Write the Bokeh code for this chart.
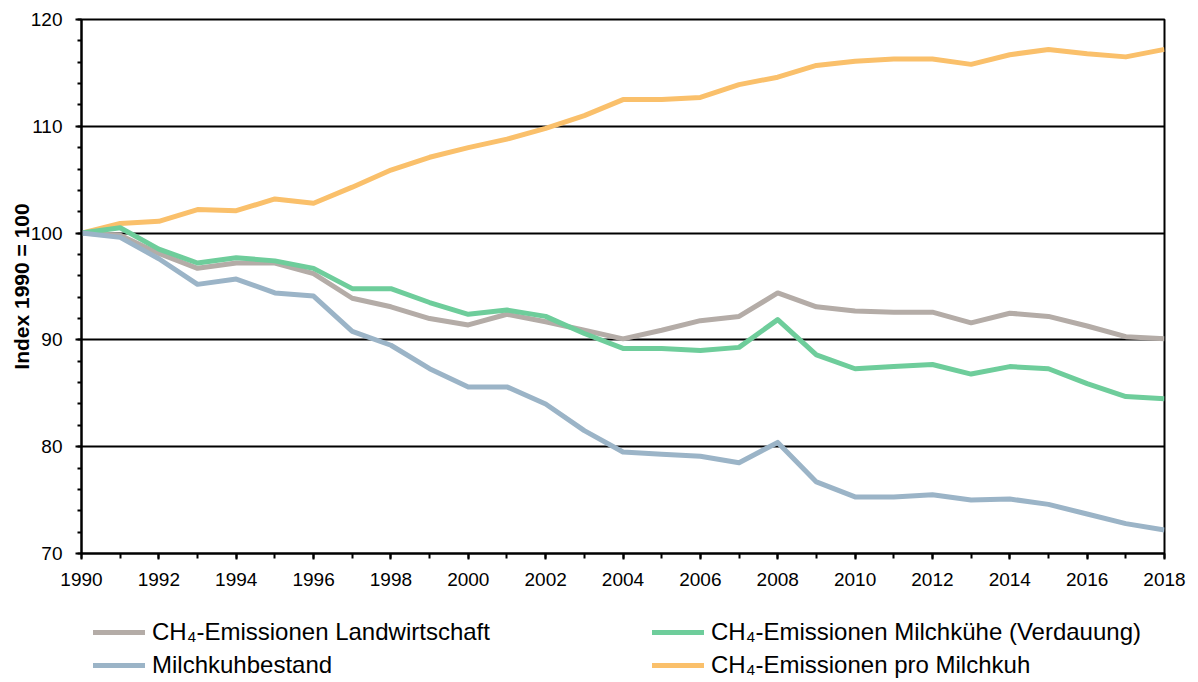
from bokeh.plotting import figure
from bokeh.layouts import column
from bokeh.models import Range1d, SingleIntervalTicker, Legend, LegendItem
from bokeh.embed import file_html
from bokeh.resources import INLINE

years = list(range(1990, 2019))
landwirtschaft = [100, 99.8, 98.1, 96.7, 97.2, 97.2, 96.2, 93.9, 93.1, 92.0, 91.4, 92.4, 91.7, 90.9, 90.1,
                  90.9, 91.8, 92.2, 94.4, 93.1, 92.7, 92.6, 92.6, 91.6, 92.5, 92.2, 91.3, 90.3, 90.1]
milchkuehe = [100, 100.5, 98.5, 97.2, 97.7, 97.4, 96.7, 94.8, 94.8, 93.5, 92.4, 92.8, 92.2, 90.6, 89.2,
              89.2, 89.0, 89.3, 91.9, 88.6, 87.3, 87.5, 87.7, 86.8, 87.5, 87.3, 85.9, 84.7, 84.5]
bestand = [100, 99.6, 97.6, 95.2, 95.7, 94.4, 94.1, 90.8, 89.5, 87.3, 85.6, 85.6, 84.0, 81.5, 79.5,
           79.3, 79.1, 78.5, 80.4, 76.7, 75.3, 75.3, 75.5, 75.0, 75.1, 74.6, 73.7, 72.8, 72.2]
pro_kuh = [100, 100.9, 101.1, 102.2, 102.1, 103.2, 102.8, 104.3, 105.9, 107.1, 108.0, 108.8, 109.8, 111.0, 112.5,
           112.5, 112.7, 113.9, 114.6, 115.7, 116.1, 116.3, 116.3, 115.8, 116.7, 117.2, 116.8, 116.5, 117.2]

labels = ["CH\u2084-Emissionen Landwirtschaft", "CH\u2084-Emissionen Milchkühe (Verdauung)",
          "Milchkuhbestand", "CH\u2084-Emissionen pro Milchkuh"]
colors = ["#B4ACA7", "#6ECD9B", "#9BB4C7", "#FAC06B"]

FONT = "Liberation Sans"

p = figure(frame_width=1083, frame_height=534, output_backend="svg", toolbar_location=None,
           x_range=Range1d(1990, 2018), y_range=Range1d(70, 120),
           min_border_left=81, min_border_top=19, min_border_right=34, min_border_bottom=55)

p.outline_line_color = "black"
p.outline_line_width = 2
p.xgrid.grid_line_color = None
p.ygrid.grid_line_color = "black"
p.ygrid.grid_line_width = 2
p.ygrid.ticker = SingleIntervalTicker(interval=10, num_minor_ticks=5)

p.xaxis.ticker = SingleIntervalTicker(interval=2, num_minor_ticks=2)
p.yaxis.ticker = SingleIntervalTicker(interval=10, num_minor_ticks=5)
for ax in (p.xaxis, p.yaxis):
    ax.axis_line_color = "black"
    ax.axis_line_width = 2
    ax.major_tick_line_color = "black"
    ax.major_tick_line_width = 2
    ax.minor_tick_line_color = "black"
    ax.minor_tick_line_width = 2
    ax.major_tick_in = 0
    ax.minor_tick_in = 0
    ax.major_tick_out = 6
    ax.major_label_text_font = FONT
    ax.major_label_text_font_size = "19px"
    ax.major_label_text_color = "black"
p.xaxis.minor_tick_out = 5
p.yaxis.minor_tick_out = 4
p.xaxis.major_label_standoff = 13
p.yaxis.major_label_standoff = 13
p.yaxis.axis_label = "Index 1990 = 100"
p.yaxis.axis_label_text_font = FONT
p.yaxis.axis_label_text_font_style = "bold"
p.yaxis.axis_label_text_font_size = "21px"
p.yaxis.axis_label_text_color = "black"
p.yaxis.axis_label_standoff = -5

series = [landwirtschaft, milchkuehe, bestand, pro_kuh]
draw_order = [3, 0, 1, 2]
for i in draw_order:
    p.line(years, series[i], line_color=colors[i], line_width=5, line_join="round")

# legend strip below the chart (its frame is aligned with the chart's frame by the column layout)
lg = figure(width=1198, height=74, output_backend="svg", toolbar_location=None,
            x_axis_location=None, y_axis_location=None,
            x_range=Range1d(0, 1), y_range=Range1d(0, 1),
            min_border_left=0, min_border_right=0, min_border_top=0, min_border_bottom=0)
lg.outline_line_color = None
lg.xgrid.visible = False
lg.ygrid.visible = False
legend_renderers = [lg.line([-10, -9], [-10, -10], line_color=colors[i], line_width=5, line_cap="round")
                    for i in range(4)]
items = [LegendItem(label=labels[i], renderers=[legend_renderers[i]]) for i in range(4)]
legend = Legend(items=items, location=(12, 3), orientation="horizontal", ncols=2,
                glyph_width=52, glyph_height=20, label_height=20, label_width=495,
                label_standoff=7, spacing=5, padding=0, margin=0,
                label_text_font=FONT, label_text_font_size="24px", label_text_color="black",
                border_line_color=None, background_fill_alpha=0)
lg.add_layout(legend, "center")

layout = column(p, lg, spacing=0)
open("out.html", "w").write(file_html(layout, INLINE))
